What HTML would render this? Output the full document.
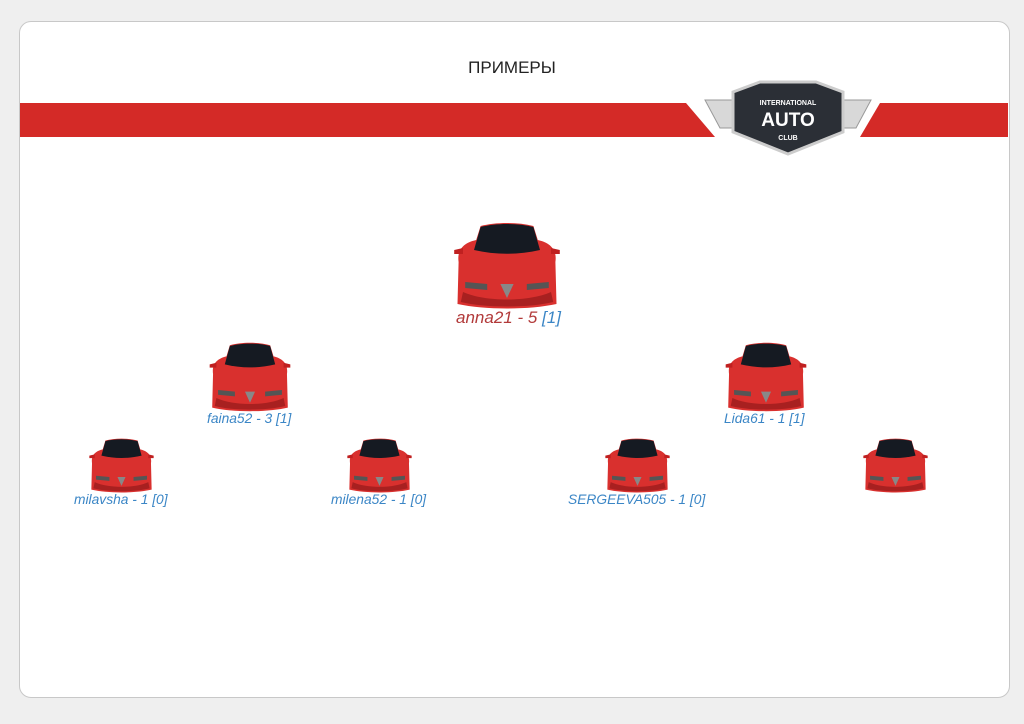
<!DOCTYPE html>
<html><head><meta charset="utf-8"><style>
body{margin:0;width:1024px;height:724px;background:#efefef;position:relative;overflow:hidden;font-family:"Liberation Sans",sans-serif}
.card{position:absolute;left:19px;top:21px;width:989px;height:675px;background:#fff;border:1px solid #c8c8c8;border-radius:12px}
.t{position:absolute;left:0;width:1024px;top:58px;text-align:center;font-size:17px;color:#222}
.lb{position:absolute;font-style:italic;font-size:13.8px;color:#3b86c6;white-space:nowrap}
</style></head><body>
<div class="card"></div>
<div class="t">ПРИМЕРЫ</div>
<svg width="1024" height="724" style="position:absolute;left:0;top:0">
<defs>
<g id="car">
<path d="M6,40 C4,25 14,20 22,18 L26,4 C40,0 60,0 74,4 L78,18 C86,20 96,25 94,40 L95,82 C70,88 30,88 5,82 Z" fill="#d9302e"/>
<path d="M20,28 L26,5 C40,1 60,1 74,5 L80,28 C60,33 40,33 20,28 Z" fill="#151a22"/>
<path d="M2,28 L10,26 L10,32 L2,32 Z M98,28 L90,26 L90,32 L98,32 Z" fill="#c02020"/>
<path d="M12,60 L32,62 L32,68 L12,66 Z M88,60 L68,62 L68,68 L88,66 Z" fill="#555"/>
<path d="M44,62 L56,62 L50,76 Z" fill="#888"/>
<path d="M10,70 C30,80 70,80 90,70 L92,80 C70,86 30,86 8,80 Z" fill="#a82020"/>
</g>
</defs>
<path d="M20,103 L686,103 L715,137 L20,137 Z" fill="#d42a27"/>
<path d="M880,103 L1008,103 L1008,137 L860,137 Z" fill="#d42a27"/>
<path d="M705,100 L740,100 L740,128 L720,128 Z M871,100 L836,100 L836,128 L856,128 Z" fill="#d8d8d8" stroke="#999"/>
<path d="M733,92 L760,82 L816,82 L843,92 L843,132 L788,154 L733,132 Z" fill="#2b2f36" stroke="#ccc" stroke-width="3"/>
<text x="788" y="105" font-size="7" font-weight="bold" fill="#fff" text-anchor="middle" font-family="Liberation Sans">INTERNATIONAL</text>
<text x="788" y="126" font-size="19" font-weight="bold" fill="#fff" text-anchor="middle" font-family="Liberation Sans">AUTO</text>
<text x="788" y="140" font-size="7" font-weight="bold" fill="#fff" text-anchor="middle" font-family="Liberation Sans">CLUB</text>
<use href="#car" transform="translate(452,222) scale(1.1,1.0)"/>
<use href="#car" transform="translate(208,342) scale(0.84,0.8)"/>
<use href="#car" transform="translate(724,342) scale(0.84,0.8)"/>
<use href="#car" transform="translate(88,438) scale(0.67,0.63)"/>
<use href="#car" transform="translate(346,438) scale(0.67,0.63)"/>
<use href="#car" transform="translate(604,438) scale(0.67,0.63)"/>
<use href="#car" transform="translate(862,438) scale(0.67,0.63)"/>
</svg>
<div class="lb" style="left:456px;top:308px;font-size:17px;color:#b23a3a">anna21 - 5 <span style="color:#3b86c6">[1]</span></div>
<div class="lb" style="left:207px;top:411px">faina52 - 3 [1]</div>
<div class="lb" style="left:724px;top:411px">Lida61 - 1 [1]</div>
<div class="lb" style="left:74px;top:492px">milavsha - 1 [0]</div>
<div class="lb" style="left:331px;top:492px">milena52 - 1 [0]</div>
<div class="lb" style="left:568px;top:492px">SERGEEVA505 - 1 [0]</div>
</body></html>
